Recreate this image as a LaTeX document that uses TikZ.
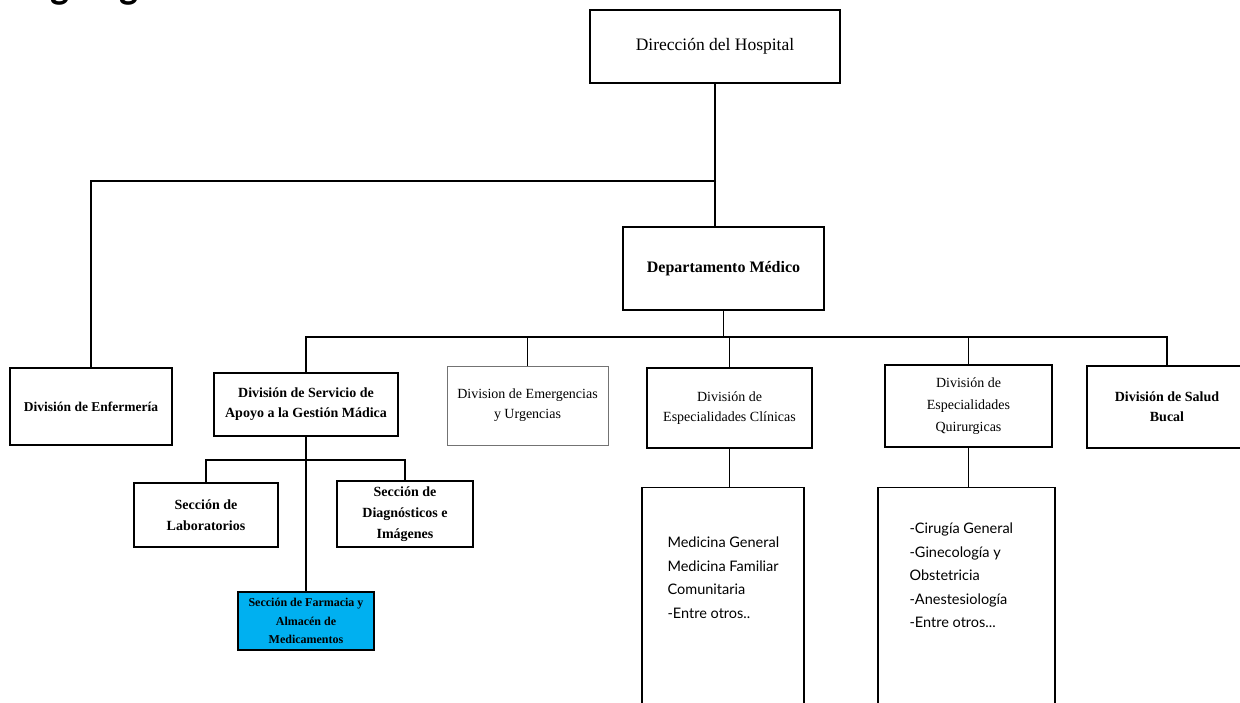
\documentclass[tikz,border=0pt]{standalone}
\usepackage{fontspec}
\setmainfont{Liberation Serif}
\newfontfamily\listfont{Lato}
\newfontfamily\titlefont{Carlito}
\usepackage{tikz}
\usetikzlibrary{positioning, calc}
\definecolor{farmblue}{RGB}{0, 176, 240}

\tikzset{
  orgbox/.style={draw=black, line width=1.3pt, align=center, inner sep=2pt, fill=white},
  orgline/.style={draw=black, line width=1.3pt},
  listbox/.style={draw=black, line width=1.3pt, anchor=north, minimum height=270pt},
  listtext/.style={anchor=north west, align=left, inner sep=0pt, font=\listfont\fontsize{14.5}{23.5}\selectfont},
}

\begin{document}
\begin{tikzpicture}[x=1pt, y=-1pt]
  \clip (0,0) rectangle (1240,702);
  \node[anchor=base west, inner sep=0pt, font=\titlefont\bfseries\fontsize{40}{40}\selectfont] (titulo) at (9,-1.5) {Organigrama};

  % dirección y departamento
  \node[orgbox, minimum width=250pt, minimum height=73pt, font=\fontsize{17.5}{20}\selectfont] (dir) at (715,46.5) {Dirección del Hospital};
  \node[orgbox, minimum width=201pt, minimum height=83pt, font=\bfseries\fontsize{16}{20}\selectfont] (dept) at (723.5,268.5) {Departamento Médico};

  % divisiones
  \node[orgbox, minimum width=162pt, minimum height=77pt, font=\bfseries\fontsize{13.5}{20}\selectfont] (enf) at (91,406.5) {División de Enfermería};
  \node[orgbox, minimum width=184pt, minimum height=63pt, font=\bfseries\fontsize{14}{20}\selectfont] (serv) at (306,404.5) {División de Servicio de\\Apoyo a la Gestión Mádica};
  \node[orgbox, draw=black!55, line width=0.9pt, minimum width=161pt, minimum height=79pt, font=\fontsize{14}{20}\selectfont] (emer) at (527.5,405.5) {Division de Emergencias\\y Urgencias};
  \node[orgbox, minimum width=165pt, minimum height=80pt, font=\fontsize{14}{20}\selectfont] (clin) at (729.5,408) {División de\\Especialidades Clínicas};
  \node[orgbox, minimum width=167pt, minimum height=82pt, font=\fontsize{14}{22}\selectfont] (quir) at (968.5,406) {División de\\Especialidades\\Quirurgicas};
  \node[orgbox, minimum width=160pt, minimum height=82pt, font=\bfseries\fontsize{14}{20}\selectfont] (bucal) at (1167,407) {División de Salud\\Bucal};

  % secciones
  \node[orgbox, minimum width=144pt, minimum height=64pt, font=\bfseries\fontsize{14}{21}\selectfont] (lab) at (206,515) {Sección de\\Laboratorios};
  \node[orgbox, minimum width=136pt, minimum height=66pt, font=\bfseries\fontsize{14}{21}\selectfont] (diag) at (405,514) {Sección de\\Diagnósticos e\\Imágenes};
  \node[orgbox, fill=farmblue, minimum width=136pt, minimum height=58pt, font=\bfseries\fontsize{12}{18.5}\selectfont] (farm) at (306,621) {Sección de Farmacia y\\Almacén de\\Medicamentos};

  % listas
  \node[listbox, minimum width=162pt] (clinlist) at (723,487) {};
  \node[listtext] (clintxt) at ($(clinlist.north west)+(26,50)$) {Medicina General\\Medicina Familiar\\Comunitaria\\-Entre otros..};
  \node[listbox, minimum width=177pt] (quirlist) at (966.5,487) {};
  \node[listtext] (quirtxt) at ($(quirlist.north west)+(32,36)$) {-Cirugía General\\-Ginecología y\\Obstetricia\\-Anestesiología\\-Entre otros...};

  % conectores
  \coordinate (hub) at (716,181);
  \coordinate (bus) at (726,337);
  \coordinate (subbus) at (306,460);
  \draw[orgline] (dir.south) -- (dir.south |- dept.north);
  \draw[orgline] (hub) -| (enf.north);
  \draw[orgline] (dept.south) -- (dept.south |- bus);
  \draw[orgline] (serv.north) -- (serv.north |- bus) -- (bucal.north |- bus) -- (bucal.north);
  \foreach \n in {emer, clin, quir}
    \draw[orgline] (\n.north |- bus) -- (\n.north);
  \draw[orgline] (serv.south) -- (farm.north);
  \draw[orgline] (lab.north) -- (lab.north |- subbus) -- (diag.north |- subbus) -- (diag.north);
  \draw[orgline] (clin.south) -- (clin.south |- clinlist.north);
  \draw[orgline] (quir.south) -- (quir.south |- quirlist.north);
\end{tikzpicture}
\end{document}
